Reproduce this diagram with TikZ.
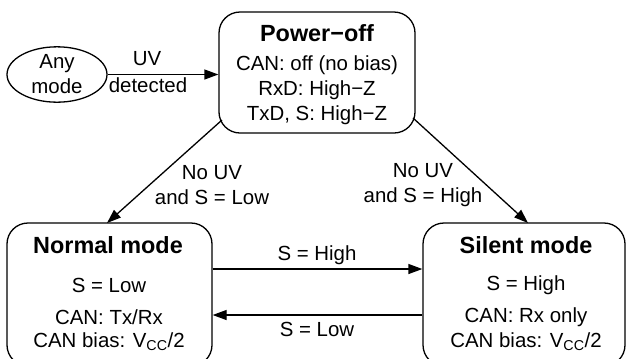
\documentclass[tikz,border=0pt]{standalone}
\usepackage{fontspec}
\setmainfont{Liberation Sans}
\usetikzlibrary{arrows.meta,shapes.geometric}
\tikzset{
  statebox/.style={draw, line width=1.3bp, rounded corners=21bp, inner sep=0pt},
  anybox/.style={draw, ellipse, line width=1.3bp, inner sep=0pt, minimum width=100bp, minimum height=45bp, align=center, font=\fontsize{20.5}{25}\selectfont},
  txt/.style={inner sep=0pt, font=\fontsize{20.5}{25}\selectfont},
  ttl/.style={inner sep=0pt, font=\fontsize{23.5}{28}\selectfont\bfseries},
  arr/.style={line width=1.3bp, -{Triangle[length=14bp,width=10bp]}}
}
\begin{document}
\begin{tikzpicture}[x=1bp,y=-1bp]
\clip (0,0) rectangle (628,358);
% nodes
\node[anybox] (any) at (57,74.5) {Any\\mode};
\node[statebox, minimum width=196bp, minimum height=121bp] (power) at (317,72.5) {};
\node[statebox, minimum width=205bp, minimum height=143bp] (normal) at (109.5,294.5) {};
\node[statebox, minimum width=202bp, minimum height=143bp] (silent) at (524,294.5) {};
% power texts
\node[ttl] (pt) at (317,33) {Power\char"2212 off};
\node[txt] (p1) at (317,65) {CAN: off (no bias)};
\node[txt] (p2) at (317,90) {RxD: High\char"2212 Z};
\node[txt] (p3) at (317,115) {TxD, S: High\char"2212 Z};
% normal texts
\node[ttl] (nt) at (108,245) {Normal mode};
\node[txt] (n1) at (109,285) {S = Low};
\node[txt] (n2) at (109,317) {CAN: Tx/Rx};
\node[txt] (n3) at (109,342) {CAN bias: V\textsubscript{CC}/2};
% silent texts
\node[ttl] (st) at (526,245) {Silent mode};
\node[txt] (s1) at (526,285) {S = High};
\node[txt] (s2) at (526,317) {CAN: Rx only};
\node[txt] (s3) at (526,342) {CAN bias: V\textsubscript{CC}/2};
% connector end points
\coordinate (pl) at (222,120);
\coordinate (pr) at (413,118);
\coordinate (nl) at (107,223);
\coordinate (sr) at (528,223);
% connectors
\draw[arr] (any.east) -- (any.east -| power.west);
\node[txt] (uv1) at (147,59) {UV};
\node[txt] (uv2) at (148,85) {detected};
\draw[arr] (pl) -- (nl);
\draw[arr] (pr) -- (sr);
\node[txt, align=center] (lbl1) at (212,185.5) {No UV\\and S = Low};
\node[txt, align=center] (lbl2) at (423,185.5) {No UV\\and S = High};
\draw[arr] (normal.east |- 0,269) -- (silent.west |- 0,269);
\draw[arr] (silent.west |- 0,315) -- (normal.east |- 0,315);
\node[txt] (hi) at (317,255) {S = High};
\node[txt] (lo) at (317,329) {S = Low};
\end{tikzpicture}
\end{document}
